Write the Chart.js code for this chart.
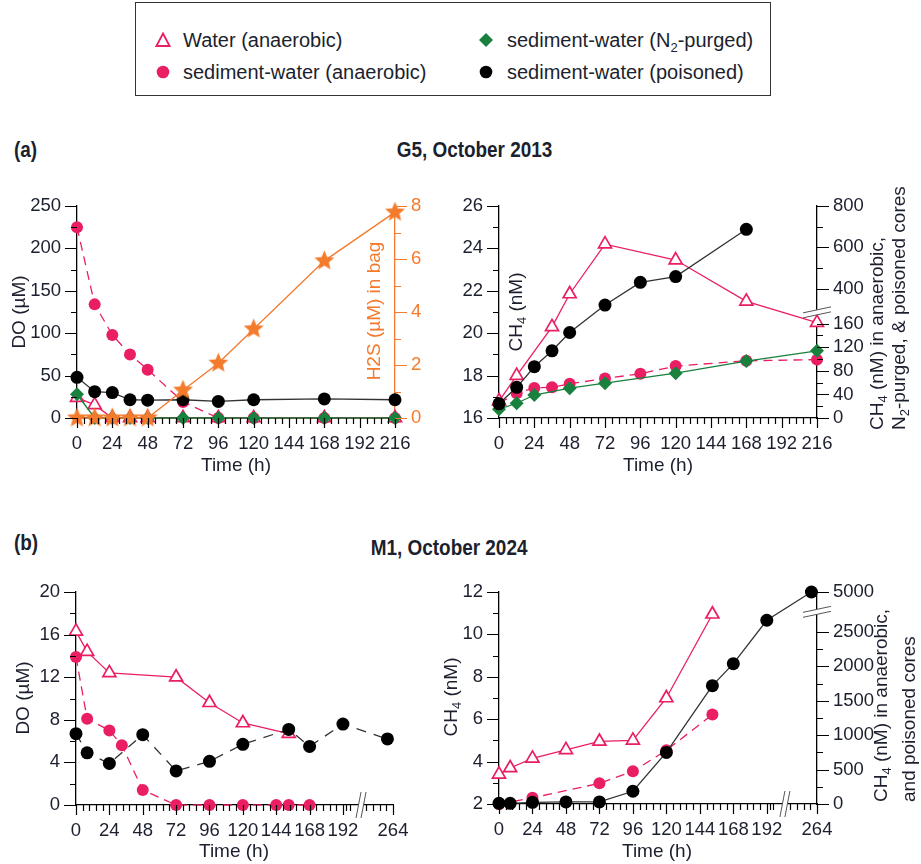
<!DOCTYPE html>
<html>
<head>
<meta charset="utf-8">
<title>DO and CH4 in core incubations</title>
<script src="https://cdn.jsdelivr.net/npm/chart.js@4.4.1/dist/chart.umd.min.js"></script>
<style>
  body { margin: 0; width: 921px; height: 864px; position: relative; background: #fff; overflow: hidden;
         font-family: "Liberation Sans", Arial, sans-serif; color: #1c1f2e; }
  canvas { position: absolute; }
  .box { position: absolute; left: 135px; top: 2px; width: 634px; height: 92px; border: 1px solid #333; }
  .lg { position: absolute; font-size: 20px; line-height: 24px; white-space: nowrap; }
  .lg sub { font-size: 13px; line-height: 0; }
  .mk { position: absolute; }
  .hd { position: absolute; font-weight: bold; font-size: 22px; line-height: 22px; white-space: nowrap; }
  .hd span { display: inline-block; transform: scaleX(0.86); }
</style>
</head>
<body>
<div class="box"></div>
<svg class="mk" style="left:155px;top:32px" width="16" height="16"><polygon points="8,1.5 14.6,14 1.4,14" fill="#fff" stroke="#ea1e63" stroke-width="1.8"/></svg>
<div class="lg" style="left:183px;top:28px">Water (anaerobic)</div>
<svg class="mk" style="left:156px;top:65px" width="14" height="14"><circle cx="7" cy="7" r="6.3" fill="#ea1e63"/></svg>
<div class="lg" style="left:183px;top:60px">sediment-water (anaerobic)</div>
<svg class="mk" style="left:478px;top:32px" width="16" height="16"><polygon points="8,1 15,8 8,15 1,8" fill="#17813d"/></svg>
<div class="lg" style="left:507px;top:28px">sediment-water (N<sub>2</sub>-purged)</div>
<svg class="mk" style="left:479px;top:65px" width="14" height="14"><circle cx="7" cy="7" r="6.3" fill="#000"/></svg>
<div class="lg" style="left:507px;top:60px">sediment-water (poisoned)</div>

<div class="hd" style="left:12px;top:139px"><span>(a)</span></div>
<div class="hd" style="left:0;width:948px;top:139px;text-align:center"><span>G5, October 2013</span></div>
<div class="hd" style="left:12px;top:532px"><span>(b)</span></div>
<div class="hd" style="left:0;width:898px;top:537px;text-align:center"><span>M1, October 2024</span></div>

<canvas id="aDO" width="460" height="300" style="left:0;top:180px"></canvas>
<canvas id="aCH4" width="481" height="300" style="left:440px;top:180px"></canvas>
<canvas id="bDO" width="460" height="294" style="left:0;top:570px"></canvas>
<canvas id="bCH4" width="481" height="294" style="left:440px;top:570px"></canvas>

<script>
// ---- (a) G5, October 2013 ----
var timeA = [0, 12, 24, 36, 48, 72, 96, 120, 168, 216];
var doWaterA   = [24, 15.5, 0, 0, 0, 0, 0, 0, 0, 0];
var doSedA     = [225, 134, 98, 75, 57, 19, 0, 0, 0, 0];
var doPurgedA  = [28, 0, 0, 0, 0, 0, 0, 0, 0, 0];
var doPoisonA  = [48, 31, 30, 21.5, 21, 21.5, 19.5, 21.5, 22.5, 21.5];
var h2sBagA    = [0, 0, 0, 0, 0, 1.05, 2.07, 3.36, 5.93, 7.77];
var ch4WaterA  = [16.8, 18.0, null, 20.3, 21.85, 24.2, null, 23.45, 21.5, 20.5];
var ch4SedA    = [25, 42, 51, 52, 58, 67, 75, 88, 97, 99];
var ch4PurgedA = [15, 25, 39, null, 50.5, 59, null, 76, 96.5, 114];
var ch4PoisonA = [24, 52, 87, 114, 145, 320, 430, 458, 687, null];

// ---- (b) M1, October 2024 ----
var timeB = [0, 8, 24, 33, 48, 72, 96, 120, 144, 153, 168, 192, 256];
var doWaterB   = [16.3, 14.4, 12.4, null, null, 12.0, 9.6, 7.7, null, 6.7, null, null, null];
var doSedB     = [13.9, 8.1, 7.0, 5.6, 1.4, 0, 0, 0, 0, 0, 0, null, null];
var doPoisonB  = [6.7, 4.9, 3.9, null, 6.6, 3.2, 4.1, 5.7, null, 7.1, 5.5, 7.6, 6.2];
var ch4WaterB  = [3.4, 3.7, 4.15, null, 4.55, 4.95, 5.0, 7.0, null, 10.95, null, null, null];
var ch4SedB    = [0, null, 90, null, null, 300, 475, 780, null, 1300, null, null, null];
var ch4PoisonB = [10, 10, 25, null, 30, 30, 185, 750, null, 1720, 2040, 2670, 5000];

// ---- tick labels ----
var hoursA = [0, 24, 48, 72, 96, 120, 144, 168, 192, 216];
var hoursB = [0, 24, 48, 72, 96, 120, 144, 168, 192, 264];
var doTicksA = [0, 50, 100, 150, 200, 250];
var h2sTicks = [0, 2, 4, 6, 8];
var ch4TicksA = [16, 18, 20, 22, 24, 26];
var ch4CoreTicksA = [0, 40, 80, 120, 160, 400, 600, 800];
var doTicksB = [0, 4, 8, 12, 16, 20];
var ch4TicksB = [2, 4, 6, 8, 10, 12];
var ch4CoreTicksB = [0, 500, 1000, 1500, 2000, 2500, 5000];

var PINK = '#ea1e63', GREEN = '#17813d', ORANGE = '#f47a2c', INK = '#1c1f2e';
var FAMILY = '"Liberation Sans", Arial, sans-serif';

// minor tick positions (4 between labelled hours)
var minorA = [], minorB = [];
for (var i = 1; i < 45; i++) if (i % 5) minorA.push(i * 4.8);
for (var i = 1; i <= 42; i++) if (i % 5) minorB.push(i * 4.8);
minorB.push(225.6, 235.2, 244.8, 254.4);

// broken axis: values past b.at are squeezed (and the gap at..to is skipped)
function squeeze(v, b) {
  if (!b || v == null || v <= b.at) return v;
  return b.at + (Math.max(v, b.to) - b.to) * b.k;
}
class BrokenScale extends Chart.LinearScale {
  static id = 'broken';
  static defaults = {};
  configure() {
    super.configure();
    this._startValue = squeeze(this.min, this.options.brk);
    this._valueRange = squeeze(this.max, this.options.brk) - this._startValue;
  }
  getPixelForValue(v) {
    return super.getPixelForValue(v == null ? v : squeeze(v, this.options.brk));
  }
}
Chart.register(BrokenScale);

function makeStar(r, color) {
  var c = document.createElement('canvas'), n = Math.ceil(r * 2 + 2);
  c.width = c.height = n;
  var g = c.getContext('2d');
  g.fillStyle = color;
  g.beginPath();
  for (var i = 0; i < 10; i++) {
    var rr = i % 2 ? r * 0.45 : r, a = -Math.PI / 2 + i * Math.PI / 5;
    g.lineTo(n / 2 + rr * Math.cos(a), n / 2 + rr * Math.sin(a));
  }
  g.closePath();
  g.fill();
  return c;
}

var LOOK = {
  water:  {borderColor: PINK, pointStyle: 'triangle', pointRadius: 7.5, pointBackgroundColor: '#fff', pointBorderColor: PINK, pointBorderWidth: 1.7},
  sed:    {borderColor: PINK, borderDash: [9, 6], pointStyle: 'circle', pointRadius: 6, pointBackgroundColor: PINK, pointBorderColor: PINK, pointBorderWidth: 0},
  purged: {borderColor: GREEN, pointStyle: 'rectRot', pointRadius: 7, pointBackgroundColor: GREEN, pointBorderColor: GREEN, pointBorderWidth: 0},
  poison: {borderColor: '#333', pointStyle: 'circle', pointRadius: 6.5, pointBackgroundColor: '#000', pointBorderColor: '#000', pointBorderWidth: 0},
  h2s:    {borderColor: ORANGE, pointStyle: makeStar(10.5, ORANGE), pointBackgroundColor: ORANGE}
};

function series(label, times, vals, look, axis, order, extra) {
  return Object.assign({
    label: label, yAxisID: axis, order: order, clip: false, spanGaps: true, tension: 0, borderWidth: 1.3,
    data: times.map(function (t, i) { return {x: t, y: vals[i]}; })
  }, look, extra || {});
}

function axis(pos, min, max, major, size, color, brk, tickLen) {
  return {
    type: brk ? 'broken' : 'linear', brk: brk, position: pos, min: min, max: max,
    afterBuildTicks: function (s) { s.ticks = major.map(function (v) { return {value: v}; }); },
    afterFit: function (s) { if (pos === 'bottom') s.height = size; else s.width = size; },
    grid: {display: true, drawOnChartArea: false, drawTicks: true, tickLength: tickLen, tickColor: 'rgba(0,0,0,0)'},
    border: {display: true, color: color, width: 1.3},
    ticks: {autoSkip: false, maxRotation: 0, padding: pos === 'bottom' ? 5 : 4,
            color: color === '#000' ? INK : color, font: {family: FAMILY, size: 18.5},
            callback: function (v) { return String(v); }}
  };
}

function tickMarks(ctx, s, vals, len, color) {
  ctx.strokeStyle = color;
  ctx.lineWidth = 1.2;
  ctx.beginPath();
  vals.forEach(function (v) {
    var p = Math.round(s.getPixelForValue(v)) + 0.5;
    if (s.isHorizontal()) { ctx.moveTo(p, s.top); ctx.lineTo(p, s.top + len); }
    else if (s.position === 'left') { ctx.moveTo(s.right, p); ctx.lineTo(s.right - len, p); }
    else { ctx.moveTo(s.left, p); ctx.lineTo(s.left + len, p); }
  });
  ctx.stroke();
}

function breakMark(ctx, s, v) {
  var p = s.getPixelForValue(v), a, b;
  if (s.isHorizontal()) {
    var y = s.top;
    a = [[p - 5, y + 13], [p, y - 13]];
    b = [[p, y + 13], [p + 5, y - 13]];
  } else {
    var x = s.left;
    a = [[x - 14, p + 1], [x + 14, p - 5]];
    b = [[x - 14, p + 6], [x + 14, p]];
  }
  ctx.fillStyle = '#fff';
  ctx.beginPath();
  ctx.moveTo(a[0][0], a[0][1]); ctx.lineTo(a[1][0], a[1][1]);
  ctx.lineTo(b[1][0], b[1][1]); ctx.lineTo(b[0][0], b[0][1]);
  ctx.closePath();
  ctx.fill();
  ctx.strokeStyle = '#555';
  ctx.lineWidth = 1;
  ctx.beginPath();
  ctx.moveTo(a[0][0], a[0][1]); ctx.lineTo(a[1][0], a[1][1]);
  ctx.moveTo(b[0][0], b[0][1]); ctx.lineTo(b[1][0], b[1][1]);
  ctx.stroke();
}

// text with optional subscripts: parts = [[text, isSub], ...]
function richText(ctx, t, ox, oy) {
  var big = '19px ' + FAMILY, small = '13px ' + FAMILY, w = 0;
  ctx.save();
  ctx.translate(t.x - ox, t.y - oy);
  if (t.rot) ctx.rotate(t.rot * Math.PI / 180);
  t.parts.forEach(function (p) { ctx.font = p[1] ? small : big; w += ctx.measureText(p[0]).width; });
  var x = t.align === 'left' ? 0 : -w / 2;
  ctx.fillStyle = t.color || INK;
  ctx.textBaseline = 'middle';
  t.parts.forEach(function (p) {
    ctx.font = p[1] ? small : big;
    ctx.fillText(p[0], x, p[1] ? 5 : 0);
    x += ctx.measureText(p[0]).width;
  });
  ctx.restore();
}

function deco(spec) {
  return {
    id: 'deco',
    afterDraw: function (chart) {
      var ctx = chart.ctx;
      ctx.save();
      spec.marks.forEach(function (m) {
        var s = chart.scales[m.axis], h = s.isHorizontal();
        tickMarks(ctx, s, m.major, h ? 10 : 12, m.color);
        tickMarks(ctx, s, m.minor, 6, m.color);
      });
      (spec.breaks || []).forEach(function (b) { breakMark(ctx, chart.scales[b.axis], b.value); });
      spec.titles.forEach(function (t) { richText(ctx, t, spec.ox, spec.oy); });
      ctx.restore();
    }
  };
}

function options(scales, pad) {
  return {
    responsive: false, animation: false, events: [],
    layout: {padding: pad},
    plugins: {legend: {display: false}, tooltip: {enabled: false}},
    scales: scales
  };
}

var TIME = [['Time (h)']];

// (a) left: DO and H2S
new Chart(document.getElementById('aDO'), {
  type: 'line',
  data: {datasets: [
    series('H2S in bag', timeA, h2sBagA, LOOK.h2s, 'y1', 0),
    series('sediment-water (poisoned)', timeA, doPoisonA, LOOK.poison, 'y', 1),
    series('sediment-water (N2-purged)', timeA, doPurgedA, LOOK.purged, 'y', 2),
    series('Water (anaerobic)', timeA, doWaterA, LOOK.water, 'y', 3),
    series('sediment-water (anaerobic)', timeA, doSedA, LOOK.sed, 'y', 4)
  ]},
  options: options({
    x: axis('bottom', 0, 216, hoursA, 62, '#000', null, 10),
    y: axis('left', 0, 250, doTicksA, 77, '#000', null, 12),
    y1: axis('right', 0, 8, h2sTicks, 65, ORANGE, null, 12)
  }, {top: 26, right: 0, left: 0, bottom: 0}),
  plugins: [deco({
    ox: 0, oy: 180,
    marks: [
      {axis: 'x', major: hoursA, minor: minorA, color: '#000'},
      {axis: 'y', major: doTicksA, minor: [25, 75, 125, 175, 225], color: '#000'},
      {axis: 'y1', major: h2sTicks, minor: [1, 3, 5, 7], color: ORANGE}
    ],
    titles: [
      {parts: [['DO (µM)']], x: 20, y: 312, rot: -90},
      {parts: [['H2S (µM) in bag']], x: 375, y: 311, rot: -90, color: ORANGE},
      {parts: TIME, x: 236, y: 466}
    ]
  })]
});

// (a) right: CH4
new Chart(document.getElementById('aCH4'), {
  type: 'line',
  data: {datasets: [
    series('sediment-water (poisoned)', timeA, ch4PoisonA, LOOK.poison, 'y1', 0),
    series('sediment-water (N2-purged)', timeA, ch4PurgedA, LOOK.purged, 'y1', 1),
    series('sediment-water (anaerobic)', timeA, ch4SedA, LOOK.sed, 'y1', 2),
    series('Water (anaerobic)', timeA, ch4WaterA, LOOK.water, 'y', 3)
  ]},
  options: options({
    x: axis('bottom', 0, 216, hoursA, 62, '#000', null, 10),
    y: axis('left', 16, 26, ch4TicksA, 59, '#000', null, 12),
    y1: axis('right', 0, 800, ch4CoreTicksA, 104, '#000', {at: 180, to: 287, k: 0.35}, 12)
  }, {top: 26, right: 0, left: 0, bottom: 0}),
  plugins: [deco({
    ox: 440, oy: 180,
    marks: [
      {axis: 'x', major: hoursA, minor: minorA, color: '#000'},
      {axis: 'y', major: ch4TicksA, minor: [17, 19, 21, 23, 25], color: '#000'},
      {axis: 'y1', major: ch4CoreTicksA, minor: [20, 60, 100, 140, 500, 700], color: '#000'}
    ],
    breaks: [{axis: 'y1', value: 180}],
    titles: [
      {parts: [['CH'], ['4', 1], [' (nM)']], x: 517, y: 312, rot: -90},
      {parts: [['CH'], ['4', 1], [' (nM) in anaerobic,']], x: 878, y: 430, rot: -90, align: 'left'},
      {parts: [['N'], ['2', 1], ['-purged, & poisoned cores']], x: 900, y: 430, rot: -90, align: 'left'},
      {parts: TIME, x: 658, y: 466}
    ]
  })]
});

// (b) left: DO
new Chart(document.getElementById('bDO'), {
  type: 'line',
  data: {datasets: [
    series('sediment-water (poisoned)', timeB, doPoisonB, LOOK.poison, 'y', 0, {borderDash: [10, 8]}),
    series('Water (anaerobic)', timeB, doWaterB, LOOK.water, 'y', 1),
    series('sediment-water (anaerobic)', timeB, doSedB, LOOK.sed, 'y', 2)
  ]},
  options: options({
    x: axis('bottom', 0, 264, hoursB, 59, '#000', {at: 192, to: 192, k: 0.5}, 10),
    y: axis('left', 0, 20, doTicksB, 76, '#000', null, 12)
  }, {top: 22, right: 67, left: 0, bottom: 0}),
  plugins: [deco({
    ox: 0, oy: 570,
    marks: [
      {axis: 'x', major: hoursB, minor: minorB, color: '#000'},
      {axis: 'y', major: doTicksB, minor: [2, 6, 10, 14, 18], color: '#000'}
    ],
    breaks: [{axis: 'x', value: 218}],
    titles: [
      {parts: [['DO (µM)']], x: 24, y: 698, rot: -90},
      {parts: TIME, x: 234, y: 852}
    ]
  })]
});

// (b) right: CH4
new Chart(document.getElementById('bCH4'), {
  type: 'line',
  data: {datasets: [
    series('sediment-water (poisoned)', timeB, ch4PoisonB, LOOK.poison, 'y1', 0),
    series('sediment-water (anaerobic)', timeB, ch4SedB, LOOK.sed, 'y1', 1),
    series('Water (anaerobic)', timeB, ch4WaterB, LOOK.water, 'y', 2)
  ]},
  options: options({
    x: axis('bottom', 0, 264, hoursB, 60, '#000', {at: 192, to: 192, k: 0.5}, 10),
    y: axis('left', 2, 12, ch4TicksB, 59, '#000', null, 12),
    y1: axis('right', 0, 5000, ch4CoreTicksB, 104, '#000', {at: 2800, to: 2800, k: 0.1277}, 12)
  }, {top: 22, right: 0, left: 0, bottom: 0}),
  plugins: [deco({
    ox: 440, oy: 570,
    marks: [
      {axis: 'x', major: hoursB, minor: minorB, color: '#000'},
      {axis: 'y', major: ch4TicksB, minor: [3, 5, 7, 9, 11], color: '#000'},
      {axis: 'y1', major: ch4CoreTicksB, minor: [250, 750, 1250, 1750, 2250], color: '#000'}
    ],
    breaks: [{axis: 'x', value: 218}, {axis: 'y1', value: 2800}],
    titles: [
      {parts: [['CH'], ['4', 1], [' (nM)']], x: 452, y: 697, rot: -90},
      {parts: [['CH'], ['4', 1], [' (nM) in anaerobic,']], x: 882, y: 802, rot: -90, align: 'left'},
      {parts: [['and poisoned cores']], x: 910, y: 802, rot: -90, align: 'left'},
      {parts: TIME, x: 657, y: 852}
    ]
  })]
});
</script>
</body>
</html>
